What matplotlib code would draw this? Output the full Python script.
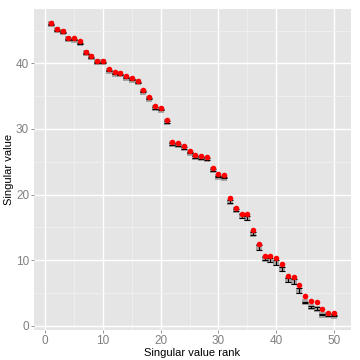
import numpy as np
import matplotlib
matplotlib.use("Agg")
import matplotlib.pyplot as plt

plt.rcParams['font.family'] = ['Liberation Sans', 'DejaVu Sans']

# --- datos ---
rank = list(range(1, 51))
observed = [46.2, 45.3, 45.0, 43.9, 43.85, 43.35, 41.8, 41.2, 40.4, 40.4,
            39.15, 38.7, 38.6, 38.1, 37.8, 37.35, 36.0, 34.9, 33.5, 33.2,
            31.4, 28.0, 27.9, 27.4, 26.7, 26.0, 25.95, 25.8, 24.1, 23.1,
            23.0, 19.4, 18.0, 17.1, 17.0, 14.55, 12.5, 10.7, 10.6, 10.25,
            9.45, 7.6, 7.4, 6.15, 4.5, 3.75, 3.65, 2.5, 2.0, 1.95]
sim_mean = [45.95, 45.05, 44.75, 43.65, 43.6, 43.1, 41.55, 40.95, 40.15, 40.15,
            38.9, 38.45, 38.35, 37.85, 37.5, 37.1, 35.7, 34.6, 33.2, 32.9,
            31.1, 27.7, 27.6, 27.1, 26.4, 25.7, 25.6, 25.4, 23.75, 22.75,
            22.6, 18.9, 17.7, 16.75, 16.4, 14.05, 11.95, 10.2, 9.95, 9.6,
            8.65, 6.9, 6.7, 5.3, 3.55, 2.85, 2.6, 1.7, 1.65, 1.55]
sim_err = [0.08, 0.08, 0.08, 0.08, 0.08, 0.08, 0.08, 0.08, 0.08, 0.08,
           0.08, 0.08, 0.08, 0.08, 0.08, 0.08, 0.08, 0.08, 0.08, 0.08,
           0.12, 0.12, 0.12, 0.12, 0.12, 0.12, 0.12, 0.12, 0.12, 0.12,
           0.12, 0.2, 0.15, 0.28, 0.3, 0.25, 0.38, 0.2, 0.3, 0.38,
           0.33, 0.3, 0.38, 0.38, 0.12, 0.15, 0.25, 0.08, 0.1, 0.1]

x_ticks = [0, 10, 20, 30, 40, 50]
y_ticks = [0, 10, 20, 30, 40]

# --- figura estilo ggplot ---
fig = plt.figure(figsize=(3.6, 3.6), dpi=100)
ax = fig.add_axes([0.0944, 0.0833, 0.8806, 0.8917])
ax.set_facecolor("#E5E5E5")

ax.set_xlim(-1.95, 52.95)
ax.set_ylim(-0.66, 48.3)
ax.set_xticks(x_ticks)
ax.set_yticks(y_ticks)
ax.set_xticks([5, 15, 25, 35, 45], minor=True)
ax.set_yticks([5, 15, 25, 35, 45], minor=True)
ax.grid(which="major", color="white", linewidth=1.0)
ax.grid(which="minor", color="#F2F2F2", linewidth=0.5)
ax.set_axisbelow(True)
for s in ax.spines.values():
    s.set_visible(False)

ax.tick_params(which="major", length=2.5, width=0.6, color="#7F7F7F",
               labelcolor="#7F7F7F", labelsize=8.5, pad=1)
ax.tick_params(which="minor", length=0)

# barras de error + media (gris) + observados (rojo)
ax.errorbar(rank, sim_mean, yerr=sim_err, fmt="none", ecolor="black",
            elinewidth=0.8, capsize=2.2, capthick=0.8, zorder=3)
ax.scatter(rank, sim_mean, marker="s", s=14, color="#555555", alpha=0.45,
           linewidths=0, zorder=2)
ax.scatter(rank, observed, s=16, color="red", linewidths=0, zorder=4)

ax.set_xlabel("Singular value rank", fontsize=8, va="center")
ax.set_ylabel("Singular value", fontsize=8, va="center")
ax.xaxis.set_label_coords(0.5, -0.072)
ax.yaxis.set_label_coords(-0.078, 0.5)

plt.savefig("out.png", dpi=100)
